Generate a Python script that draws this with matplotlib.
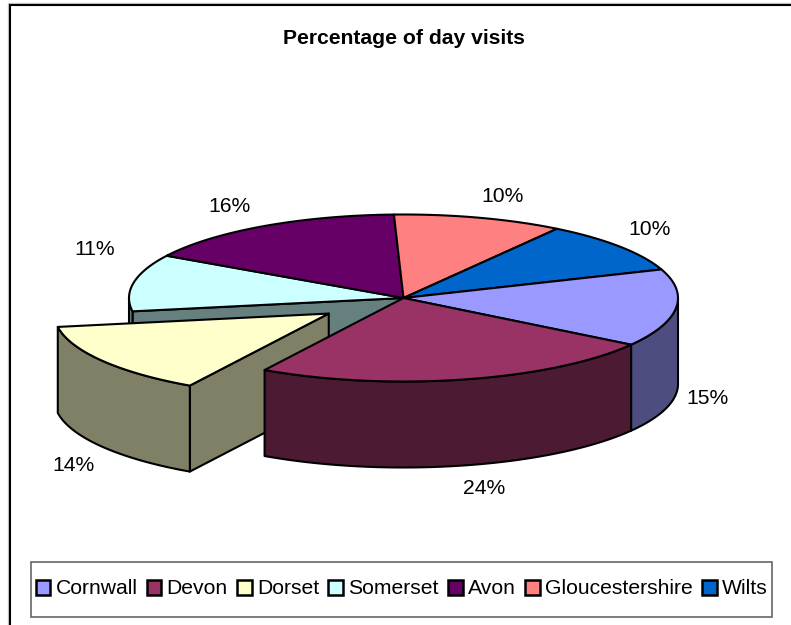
import numpy as np
import matplotlib
matplotlib.use('Agg')
import matplotlib.pyplot as plt
from matplotlib.patches import Patch, Polygon, Rectangle

plt.rcParams['font.family'] = ['Liberation Sans', 'DejaVu Sans']

# Data
counties = ['Cornwall', 'Devon', 'Dorset', 'Somerset', 'Avon', 'Gloucestershire', 'Wilts']
percent = [15, 24, 14, 11, 16, 10, 10]
exploded = ['Dorset']
colours = ['#9999FF', '#993366', '#FFFFCC', '#CCFFFF', '#660066', '#FF8080', '#0066CC']
side_colours = ['#4D4D80', '#4D1A33', '#808066', '#668080', '#330033', '#804040', '#003366']

# Projection of the pie, in figure pixels
CX, CY = 403.5, 298
RX, RY = 274.5, 83.5
DEPTH = 86
START = 20
EXPLODE = 0.33
FONT = 15.2

fig = plt.figure(figsize=(7.91, 6.25), dpi=100)
ax = fig.add_axes([0, 0, 1, 1])
ax.set_xlim(0, 791)
ax.set_ylim(625, 0)
ax.axis('off')


def project(theta, cx, cy, r=1.0):
    t = np.radians(theta)
    return np.column_stack([cx + r * RX * np.cos(t), cy - r * RY * np.sin(t)])


def draw(points, colour, z):
    ax.add_patch(Polygon(points, closed=True, facecolor=colour, edgecolor='black',
                         linewidth=1.5, joinstyle='round', zorder=z))


def top(a1, a2, cx, cy, colour, z):
    arc = project(np.linspace(a1, a2, 80), cx, cy)
    draw(np.vstack([[cx, cy], arc]), colour, z)


def rim(a1, a2, cx, cy, colour, z):
    # only the front of the rim shows
    lo, hi = max(min(a1, a2), -180), min(max(a1, a2), 0)
    if lo >= hi:
        return
    arc = project(np.linspace(hi, lo, 80), cx, cy)
    draw(np.vstack([arc, arc[::-1] + [0, DEPTH]]), colour, z)


def wall(theta, cx, cy, colour, z):
    p = project(np.array([theta]), cx, cy)[0]
    draw([[cx, cy], p, p + [0, DEPTH], [cx, cy + DEPTH]], colour, z)


# Slice angles run clockwise from START
edges = START - np.cumsum([0] + percent) * 3.6
order = {'Somerset': 1, 'Avon': 2, 'Gloucestershire': 2, 'Wilts': 2, 'Cornwall': 3, 'Dorset': 4, 'Devon': 5}

for i, name in enumerate(counties):
    a1, a2 = edges[i], edges[i + 1]
    z = order[name] * 10
    cx, cy = CX, CY
    if name in exploded:
        mid = project(np.array([(a1 + a2) / 2]), CX, CY, EXPLODE)[0]
        cx, cy = mid
        wall(a1, cx, cy, side_colours[i], z)
    if name == 'Somerset':
        wall(a1, cx, cy, side_colours[i], z + 1)
    rim(a1, a2, cx, cy, side_colours[i], z + 2)
    top(a1, a2, cx, cy, colours[i], z + 3)

# Slice labels
label_x = [708, 484, 73, 95, 229, 503, 650]
label_y = [398.5, 488.5, 465.5, 249.5, 206.5, 197, 229.5]
for x, y, v in zip(label_x, label_y, percent):
    ax.text(x, y, f'{v}%', fontsize=FONT, ha='center', va='center', color='black', zorder=100)

ax.text(404, 38.5, 'Percentage of day visits', fontsize=FONT, fontweight='bold',
        ha='center', va='center', color='black')

# Chart border: only top and left fall inside the picture
ax.plot([9.5, 9.5, 791], [625, 4.5, 4.5], color='black', linewidth=1.5, zorder=90,
        solid_joinstyle='miter')
ax.plot([8, 8, 791], [625, 3, 3], color='#C8C8C8', linewidth=1, zorder=89)

# Legend box is taller than its row, so the frame is drawn separately
ax.add_patch(Rectangle((30.5, 562), 741.5, 55, facecolor='white', edgecolor='#666666',
                       linewidth=1.2, zorder=94))
handles = [Patch(facecolor=c, edgecolor='black', linewidth=1.8) for c in colours]
leg = ax.legend(handles, counties, ncol=7, loc='center', bbox_to_anchor=(401.5 / 791, 1 - 589 / 625),
                fontsize=FONT, frameon=False, handlelength=0.7, handleheight=0.72,
                handletextpad=0.24, columnspacing=0.44, borderpad=0, labelspacing=0)
leg.set_zorder(95)

fig.savefig('out.png', dpi=100)
